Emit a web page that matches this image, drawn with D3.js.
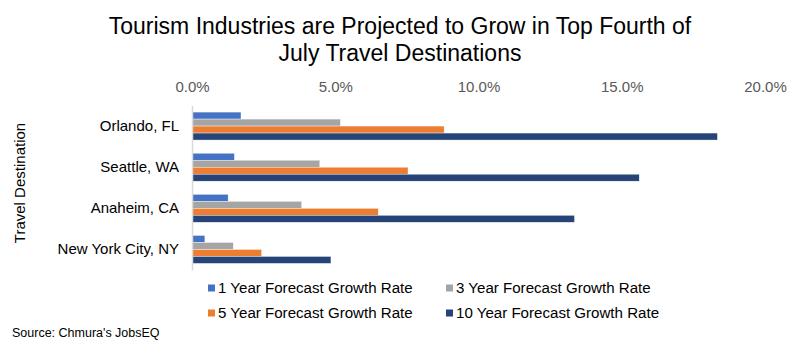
<!DOCTYPE html>
<html>
<head>
<meta charset="utf-8">
<script src="https://cdn.jsdelivr.net/npm/d3@7"></script>
<style>
  html, body { margin: 0; padding: 0; background: #fff; }
  svg { display: block; font-family: "Liberation Sans", Arial, sans-serif; }
</style>
</head>
<body>
<svg id="chart" width="800" height="346"></svg>
<script>
// Destinations, top to bottom
const destinations = ["Orlando, FL", "Seattle, WA", "Anaheim, CA", "New York City, NY"];
// Forecast growth rates (%) per destination
const growth1yr  = [1.71, 1.48, 1.26, 0.45];
const growth3yr  = [5.18, 4.46, 3.83, 1.44];
const growth5yr  = [8.80, 7.54, 6.50, 2.43];
const growth10yr = [18.34, 15.61, 13.35, 4.85];
const seriesNames = ["1 Year Forecast Growth Rate", "3 Year Forecast Growth Rate",
                     "5 Year Forecast Growth Rate", "10 Year Forecast Growth Rate"];
const xTicks = [0, 5, 10, 15, 20];

const seriesValues = [growth1yr, growth3yr, growth5yr, growth10yr];
const colors = ["#4472C4", "#A5A5A5", "#ED7D31", "#264478"];

const svg = d3.select("#chart");
const plot = { left: 192, right: 765, top: 105.5, bottom: 270 };

const x = d3.scaleLinear().domain([0, 20]).range([plot.left, plot.right]);
const y = d3.scaleBand().domain(destinations).range([plot.top, plot.bottom]).paddingInner(0.32).paddingOuter(0.16);
const ySub = d3.scaleBand().domain(d3.range(4)).range([0, y.bandwidth()]);

// Title
svg.append("text")
  .attr("x", 400).attr("y", 34)
  .attr("text-anchor", "middle")
  .attr("font-size", 23).attr("fill", "#000")
  .selectAll("tspan")
  .data(["Tourism Industries are Projected to Grow in Top Fourth of", "July Travel Destinations"])
  .join("tspan")
  .attr("x", 400)
  .attr("dy", (d, i) => i === 0 ? 0 : 26.5)
  .text(d => d);

// Top value axis (labels only)
const xAxis = d3.axisTop(x).tickValues(xTicks).tickFormat(d => d.toFixed(1) + "%").tickSize(0).tickPadding(0);
const gx = svg.append("g").attr("transform", "translate(0,92)").call(xAxis);
gx.select(".domain").remove();
gx.selectAll("text").attr("font-size", 15).attr("fill", "#595959")
  .attr("font-family", "Liberation Sans, Arial, sans-serif");

// Bars
const groups = svg.append("g").selectAll("g")
  .data(destinations)
  .join("g")
  .attr("transform", d => `translate(0,${y(d)})`);

groups.selectAll("rect")
  .data((d, i) => seriesValues.map((vals, s) => ({ s, v: vals[i] })))
  .join("rect")
  .attr("x", x(0))
  .attr("y", d => ySub(d.s))
  .attr("width", d => x(d.v) - x(0))
  .attr("height", ySub.bandwidth())
  .attr("fill", d => colors[d.s])
  .attr("stroke", "#fff")
  .attr("stroke-width", 0.4);

// Category axis
const yAxis = d3.axisLeft(y).tickSize(0).tickPadding(13);
const gy = svg.append("g").attr("transform", `translate(${plot.left},0)`).call(yAxis);
gy.select(".domain").attr("stroke", "#D9D9D9").attr("stroke-width", 1.5);
gy.selectAll("text").attr("font-size", 15).attr("fill", "#000")
  .attr("font-family", "Liberation Sans, Arial, sans-serif");

// Axis title
svg.append("text")
  .attr("transform", "translate(25,183) rotate(-90)")
  .attr("text-anchor", "middle")
  .attr("font-size", 15).attr("fill", "#000")
  .text("Travel Destination");

// Legend
const legendPos = [[208, 288], [446, 288], [208, 313], [446, 313]];
const legend = svg.append("g").selectAll("g")
  .data(seriesNames)
  .join("g")
  .attr("transform", (d, i) => `translate(${legendPos[i][0]},${legendPos[i][1]})`);
legend.append("rect").attr("x", 0).attr("y", -3.5).attr("width", 7).attr("height", 7)
  .attr("fill", (d, i) => colors[i]);
legend.append("text").attr("x", 10).attr("y", 5.3)
  .attr("font-size", 15.1).attr("fill", "#000")
  .text(d => d);

// Source note
svg.append("text")
  .attr("x", 12).attr("y", 337)
  .attr("font-size", 12.5).attr("fill", "#000")
  .text("Source: Chmura's JobsEQ");
</script>
</body>
</html>
